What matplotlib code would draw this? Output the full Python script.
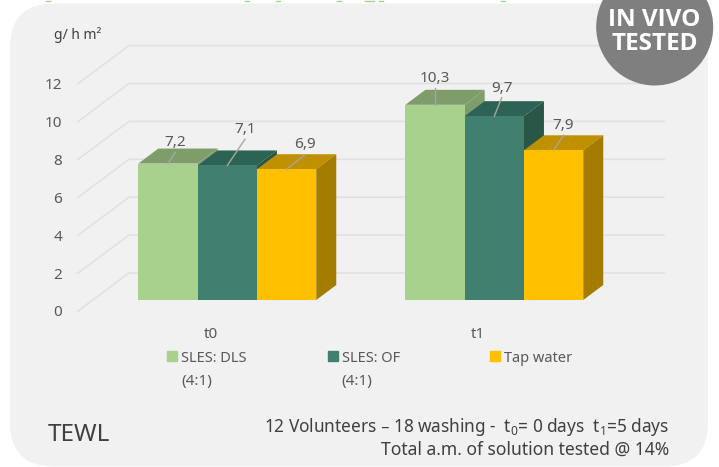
import matplotlib
matplotlib.use("Agg")
import matplotlib.pyplot as plt
from matplotlib.patches import Polygon, Circle, FancyBboxPatch, Patch
from matplotlib.transforms import IdentityTransform

plt.rcParams['font.family'] = ['Noto Sans', 'DejaVu Sans']
plt.rcParams['mathtext.default'] = 'regular'

categories = ["t0", "t1"]
series_names = ["SLES: DLS", "SLES: OF", "Tap water"]
series_notes = ["(4:1)", "(4:1)", ""]
dls = [7.2, 10.3]
of = [7.1, 9.7]
tap = [6.9, 7.9]
y_ticks = [0, 2, 4, 6, 8, 10, 12]

front_colors = ["#A9D18E", "#417F6E", "#FFC000"]
top_colors = ["#7F9D6B", "#2D6354", "#BF9000"]
side_colors = ["#7F9D6B", "#2A5647", "#A47C00"]

W, H = 719, 467
PX_X = 267.0      # pixels per category
PX_Y = 18.95      # pixels per value unit
X0, Y0 = 227.3, 300.0   # pixel position of t0 centre / bar base
bar_w = 59.3 / PX_X
dx = 20 / PX_X    # bar depth
dy = 15 / PX_Y

fig = plt.figure(figsize=(W / 100, H / 100), dpi=100, facecolor="white")
ax = fig.add_axes([0, 0, 1, 1])
ax.set_xlim(-X0 / PX_X, (W - X0) / PX_X)
ax.set_ylim((Y0 - H) / PX_Y, Y0 / PX_Y)
ax.axis("off")


def px(x, y):
    return (x - X0) / PX_X, (Y0 - y) / PX_Y


# background panel
panel = FancyBboxPatch((10, 0.4), 698, 463.1, boxstyle="round,pad=0,rounding_size=44",
                       transform=IdentityTransform(), fc="#F1F1F1", ec="none", zorder=0)
ax.add_patch(panel)

# bottoms of the cut off title above the panel
for x in [48, 247, 278, 339, 367, 372, 381, 503]:
    ax.plot(*zip(px(x - 2, 0.5), px(x + 2, 0.5)), color="#A9D18E", lw=1, zorder=1)

# gridlines: floor and back wall
grid_front_x = px(78, 0)[0]
grid_back_x = px(129, 0)[0]
grid_end_x = px(664, 0)[0]
for v in y_ticks:
    ya = v - 11 / PX_Y
    yb = v + 27 / PX_Y
    ax.plot([grid_front_x, grid_back_x, grid_end_x], [ya, yb, yb], color="#E1E1E1", lw=1.2, zorder=1)
    ax.text(px(62.5, 0)[0], ya, str(v), ha="right", va="center_baseline", fontsize=11, color="#595959")

# bars
series = [dls, of, tap]
n = 0
for s, vals in enumerate(series):
    for c, v in enumerate(vals):
        left = c + (s - 1.5) * bar_w
        right = left + bar_w
        z = 2 + n
        ax.bar(left, v, width=bar_w, align="edge", color=front_colors[s], zorder=z + 0.2)
        ax.add_patch(Polygon([(left, v), (left + dx, v + dy), (right + dx, v + dy), (right, v)],
                             fc=top_colors[s], ec="none", zorder=z))
        ax.add_patch(Polygon([(right, 0), (right + dx, dy), (right + dx, v + dy), (right, v)],
                             fc=side_colors[s], ec="none", zorder=z))
        n += 1

# data labels with leader lines
label_offsets = {(0, 0): (7.4, 11.3), (0, 1): (17.7, 26.3), (0, 2): (18.7, 14.7),
                 (1, 0): (0, 17), (1, 1): (7.4, 18.4), (1, 2): (10, 15)}
for s, vals in enumerate(series):
    for c, v in enumerate(vals):
        xc = c + (s - 1) * bar_w
        ox, oy = label_offsets[(c, s)]
        ax.plot([xc, xc + ox / PX_X], [v, v + oy / PX_Y], color="#A6A6A6", lw=1, zorder=30)
        ax.text(xc + ox / PX_X, v + (oy + 11.7) / PX_Y, str(v).replace(".", ","), ha="center",
                va="center_baseline", fontsize=11, color="#595959", zorder=31)

# category labels
for c, name in enumerate(categories):
    ax.text(c - 0.06, px(0, 333)[1], name, ha="center", va="center_baseline", fontsize=11, color="#595959")

ax.text(*px(78, 33), "g/ h m²", ha="center", va="center_baseline", fontsize=10, color="#404040")

# one legend per entry, the columns sit at fixed places
legend_x = [167, 327.7, 490]
for name, note, col, lx in zip(series_names, series_notes, front_colors, legend_x):
    leg = ax.legend([Patch(color=col)], [name], loc="center left", bbox_to_anchor=(lx / W, 1 - 358 / H),
                    frameon=False, fontsize=10.5, labelcolor="#595959", handlelength=0.68, handleheight=0.68,
                    handletextpad=0.3, borderpad=0, borderaxespad=0)
    ax.add_artist(leg)
    if note:
        ax.text(*px(lx + 14, 379), note, ha="left", va="center_baseline", fontsize=11, color="#595959")
ax.legend_ = None

ax.text(*px(48, 432), "TEWL", ha="left", va="center_baseline", fontsize=17.5, color="#404040")
ax.text(*px(669, 424), "12 Volunteers – 18 washing -  t$_0$= 0 days  t$_1$=5 days", ha="right",
        va="center_baseline", fontsize=12.4, color="#404040")
ax.text(*px(669, 448), "Total a.m. of solution tested @ 14%", ha="right", va="center_baseline",
        fontsize=12.6, color="#404040")

# badge
ax.add_patch(Circle((654.7, H - 27), 58.5, transform=IdentityTransform(), fc="#7F7F7F", ec="none", zorder=40))
ax.text(*px(654.5, 17), "IN VIVO", ha="center", va="center_baseline", fontsize=17.5, fontweight="bold",
        family="Open Sans", color="white", zorder=41)
ax.text(*px(654.5, 40.5), "TESTED", ha="center", va="center_baseline", fontsize=17.5, fontweight="bold",
        family="Open Sans", color="white", zorder=41)

fig.savefig("out.png", dpi=100)
